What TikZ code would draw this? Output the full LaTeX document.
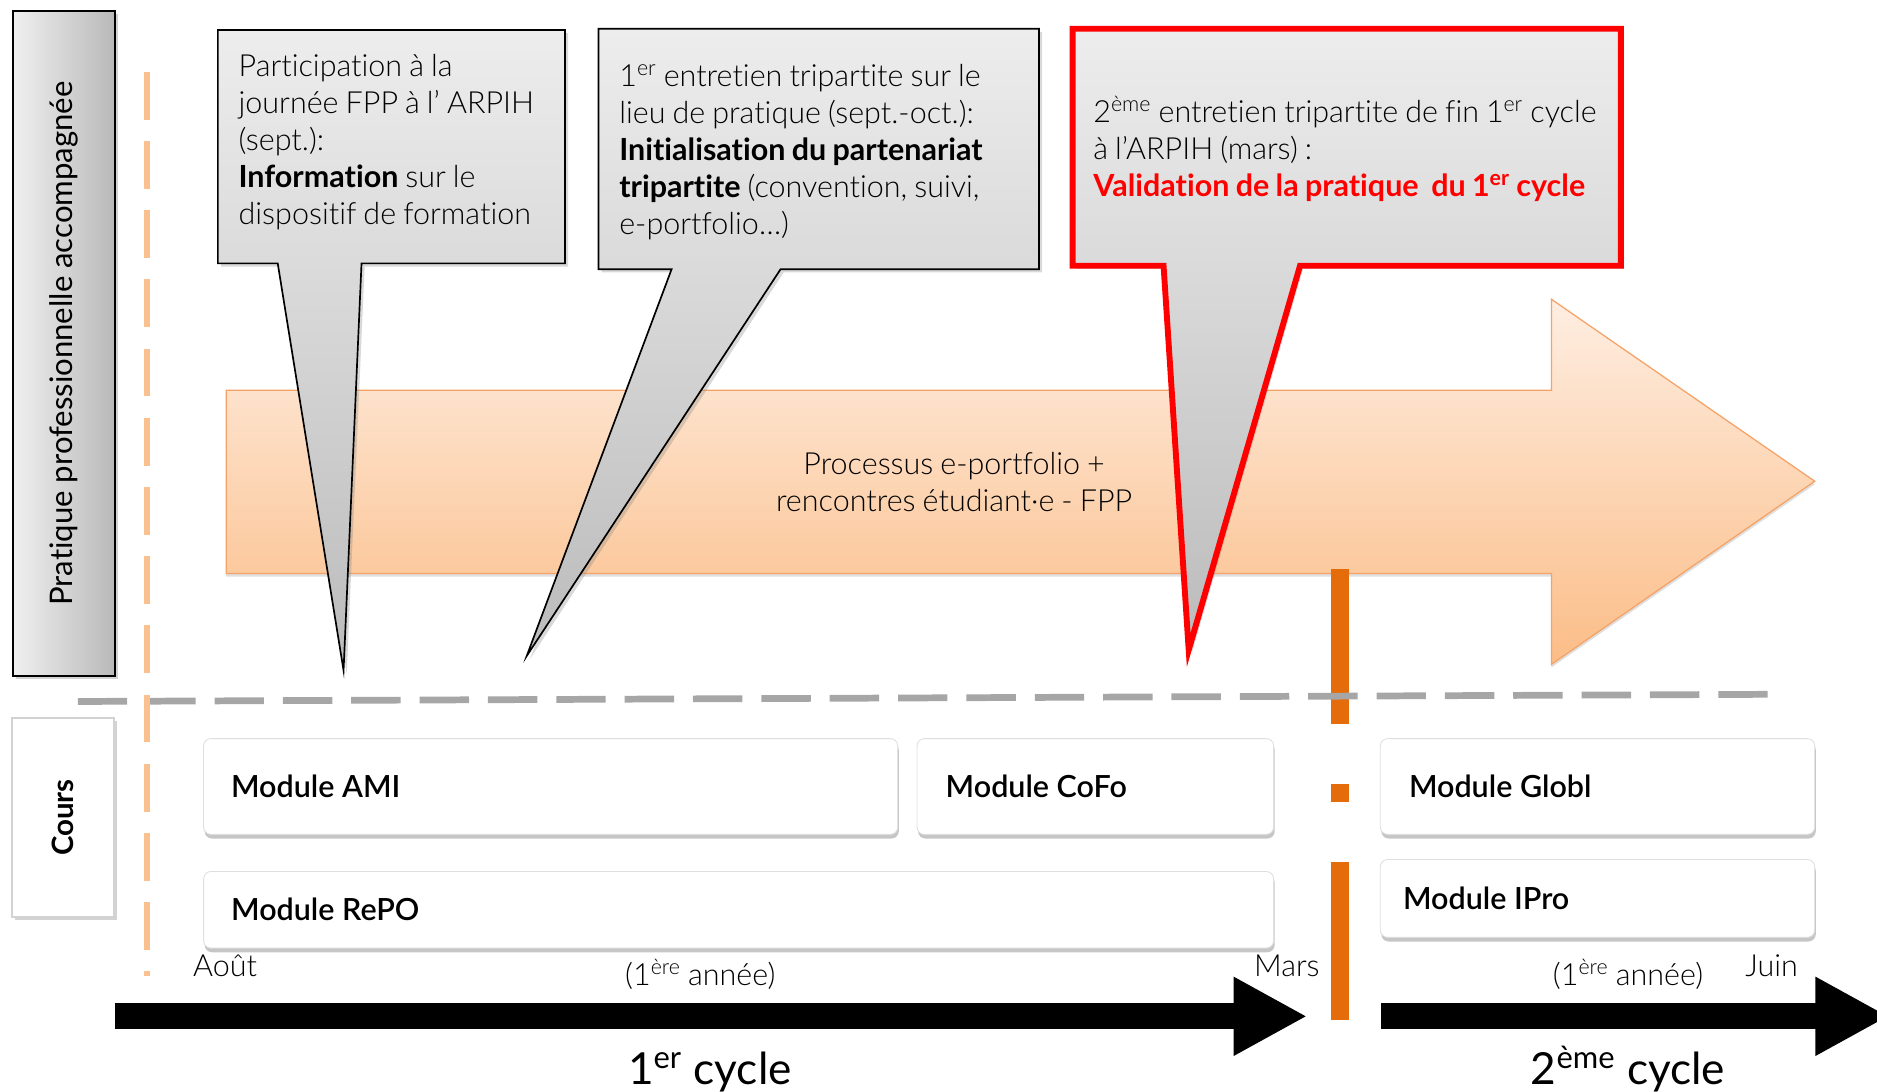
\documentclass[tikz,border=0pt]{standalone}
\usepackage{fontspec}
\setmainfont{Lato}[Ligatures=NoCommon]
\newfontfamily\leger{Lato Light}[BoldFont={Lato Bold},Ligatures=NoCommon,WordSpace=0.85]
\newfontfamily\demigras{Lato Semibold}[Ligatures=NoCommon]
\usepackage{tikz}
\usetikzlibrary{positioning,shadows,arrows.meta,calc}

\definecolor{orangeclair}{HTML}{FAC090}
\definecolor{orangefonce}{HTML}{E46C0A}
\definecolor{orangetrait}{HTML}{F5A266}
\definecolor{orangehaut}{HTML}{FEEEE2}
\definecolor{orangebas}{HTML}{FBBD87}
\definecolor{grisligne}{HTML}{A6A6A6}
\definecolor{bulhaut}{HTML}{EDEDED}
\definecolor{bulbas}{HTML}{BBBBBB}

\begin{document}
\begin{tikzpicture}[x=0.02cm,y=-0.02cm,
boite/.style={
  draw=black,
  line width=0.8pt,
  drop shadow={shadow xshift=1.5pt,shadow yshift=-1.5pt,opacity=0.35}},
bulle/.style={
  draw=black,
  line width=0.8pt,
  top color=bulhaut,
  bottom color=bulbas,
  drop shadow={shadow xshift=1.5pt,shadow yshift=-1.5pt,opacity=0.3}},
txtbulle/.style={
  anchor=north west,
  inner sep=0pt,
  align=left,
  font=\leger\fontsize{14.5}{17.6}\selectfont},
module/.style={
  draw=gray!25,
  fill=white,
  rounded corners=3.5pt,
  drop shadow={shadow xshift=0.5pt,shadow yshift=-2pt,opacity=0.45}},
txtmodule/.style={
  inner sep=0pt,
  font=\demigras\fontsize{14.5}{17}\selectfont},
date/.style={
  anchor=base,
  inner sep=0pt,
  font=\leger\fontsize{14.5}{17}\selectfont},
txtcycle/.style={
  anchor=base,
  inner sep=0pt,
  font=\fontsize{21}{25}\selectfont},
flechenoire/.style={
  line width=12.5pt,
  -{Triangle[length=35pt,width=35pt]}}
]
\useasboundingbox (0,0) rectangle (1568,912);
% colonne de gauche
\node[boite, left color=gray!12, right color=gray!55,
  minimum width=1.7cm, minimum height=11.12cm] (pratique) at (53.5,287) {};
\node[rotate=90, font=\fontsize{14.8}{17}\selectfont] (pratiquetxt) at (pratique) {Pratique professionnelle accompagnée};
\node[boite, draw=gray!35, fill=white,
  minimum width=1.7cm, minimum height=3.32cm] (cours) at (52.5,683) {};
\node[rotate=90, font=\fontsize{14}{17}\selectfont\bfseries] (courstxt) at (cours) {Cours};
% fleche orange
\shade[top color=orangehaut, bottom color=orangebas, draw=orangetrait, line width=0.6pt,
  drop shadow={shadow xshift=0pt,shadow yshift=-1.5pt,opacity=0.25}]
  (189,326) coordinate (A) -- (1296,326) -- (1296,250) --
  (1516,402) coordinate (P) -- (1296,555) -- (1296,479) -- (189,479) -- cycle;
\node[align=center, font=\leger\fontsize{14.5}{17.6}\selectfont] (processus) at (797,403)
  {Processus e-portfolio +\\rencontres étudiant·e - FPP};
% barre de mars
\foreach \ya/\yb in {475/605,655/670,720/852}
  \fill[orangefonce] (1112,\ya) rectangle (1127,\yb);
% traits
\draw[grisligne, line width=3.2pt, dash pattern=on 23.5pt off 9pt]
  (65,586) coordinate (G1) -- (1480,580) coordinate (G2);
\draw[orangeclair, line width=2.8pt, dash pattern=on 22.7pt off 10.2pt]
  (123,60) coordinate (V1) -- (123,815) coordinate (V2);
% bulles
\shade[bulle] (182,25) -- (472,25) -- (472,220) -- (302,220) --
  (287,560) coordinate (T1) -- (232,220) -- (182,220) -- cycle;
\shade[bulle] (500,24) -- (868,24) -- (868,225) -- (652,225) --
  (440,548) coordinate (T2) -- (561,225) -- (500,225) -- cycle;
\shade[bulle, draw=red, line width=2.8pt] (896,24) -- (1354,24) -- (1354,222) -- (1086,222) --
  (993,543) coordinate (T3) -- (972,222) -- (896,222) -- cycle;
\node[txtbulle] (journee) at (199,45)
  {Participation à la\\journée FPP à l’ ARPIH\\(sept.):\\\textbf{Information} sur le\\dispositif de formation};
\node[txtbulle] (entretien1) at (517,53)
  {1\textsuperscript{er} entretien tripartite sur le\\lieu de pratique (sept.-oct.):\\\textbf{Initialisation du partenariat}\\\textbf{tripartite} (convention, suivi,\\e-portfolio…)};
\node[txtbulle] (entretien2) at (913,80)
  {2\textsuperscript{ème} entretien tripartite de fin 1\textsuperscript{er} cycle\\à l’ARPIH (mars) :\\\textcolor{red}{\textbf{Validation de la pratique\ \ du 1\textsuperscript{er} cycle}}};
% modules
\foreach \nom/\cx/\cy/\larg/\haut/\dx/\txt in {
  ami/460/657/11.6/1.6/0.46/Module AMI,
  cofo/915/657/5.96/1.6/0.48/Module CoFo,
  repo/617/760/17.88/1.28/0.46/Module RePO,
  globi/1334.5/657/7.26/1.6/0.48/Module Globl,
  ipro/1334.5/750.5/7.26/1.3/0.38/Module IPro}{
  \node[module, minimum width=\larg cm, minimum height=\haut cm] (\nom) at (\cx,\cy) {};
  \node[txtmodule, right=\dx cm of \nom.west] (\nom txt) {\txt};
}
% axe du temps
\coordinate (debut1) at (96,849);
\coordinate (fin1) at (1092,849);
\coordinate (debut2) at (1154,849);
\coordinate (fin2) at (1578,849);
\draw[flechenoire] (debut1) -- (fin1);
\draw[flechenoire] (debut2) -- (fin2);
\node[date] (aout) at (188,816) {Août};
\node[date] (annee1) at (585,823) {(1\textsuperscript{ère} année)};
\node[date] (mars) at (1075,816) {Mars};
\node[date] (annee2) at (1360,823) {(1\textsuperscript{ère} année)};
\node[date] (juin) at (1480,816) {Juin};
\node[txtcycle] (cycle1) at (593,906) {1\textsuperscript{er} cycle};
\node[txtcycle] (cycle2) at (1360,906) {2\textsuperscript{ème} cycle};
\end{tikzpicture}
\end{document}
